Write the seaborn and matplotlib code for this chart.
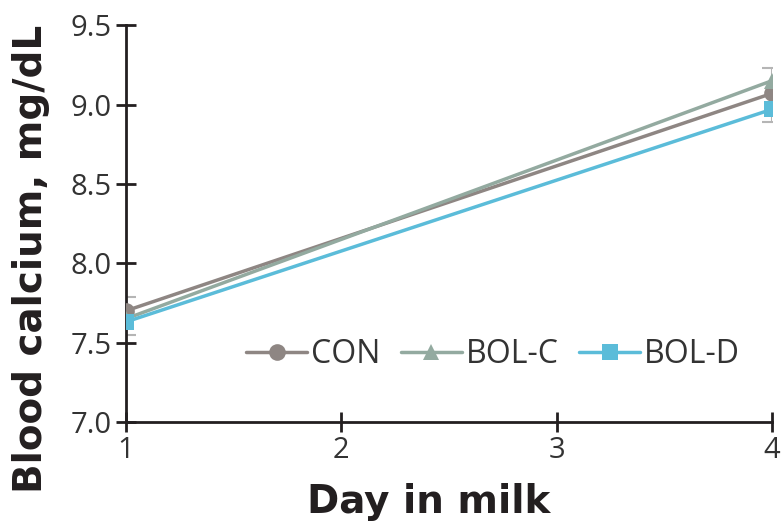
import numpy as np
import pandas as pd
import seaborn as sns
import matplotlib.pyplot as plt

# data
days = [1, 4]
con = [7.70, 9.07]
bol_c = [7.65, 9.15]
bol_d = [7.63, 8.97]
err_mid = [7.67, 9.06]
err_half = [0.12, 0.17]

groups = ['CON', 'BOL-C', 'BOL-D']
colors = {'CON': '#8e8683', 'BOL-C': '#93aaa0', 'BOL-D': '#5bbcd9'}
markers = {'CON': 'o', 'BOL-C': '^', 'BOL-D': 's'}

df = pd.DataFrame({
    'day': days * 3,
    'calcium': con + bol_c + bol_d,
    'group': [g for g in groups for _ in days],
})

sns.set_style('ticks')
plt.rcParams['font.family'] = ['Open Sans', 'DejaVu Sans']

fig = plt.figure(figsize=(7.82, 5.26), dpi=100)
ax = fig.add_axes([0.161, 0.198, 0.826, 0.754])

# pooled SE brackets, clipped at the plot edges
ax.errorbar(days, err_mid, yerr=err_half, fmt='none', ecolor='#b5b5b5',
            elinewidth=1.5, capsize=7, capthick=1.5, zorder=1)

sns.lineplot(data=df, x='day', y='calcium', hue='group', style='group',
             palette=colors, markers=markers, dashes=False, markersize=12,
             linewidth=2.5, markeredgewidth=0, ax=ax, zorder=3)

ax.set_xlim(1, 4)
ax.set_ylim(7.0, 9.5)
ax.set_xticks([1, 2, 3, 4])
ax.set_yticks([7.0, 7.5, 8.0, 8.5, 9.0, 9.5])
ax.set_yticklabels(['7.0', '7.5', '8.0', '8.5', '9.0', '9.5'])
ax.tick_params(direction='inout', length=14, width=2, color='#231f20',
               labelsize=21, labelcolor='#333333')
ax.tick_params(axis='y', pad=3)
sns.despine(ax=ax)
for s in ['left', 'bottom']:
    ax.spines[s].set_linewidth(2)
    ax.spines[s].set_color('#231f20')

ax.set_xlabel('Day in milk', fontsize=28, fontweight='bold', color='#231f20',
              family='DejaVu Sans')
ax.xaxis.set_label_coords(0.469, -0.153)
ax.set_ylabel('Blood calcium, mg/dL', fontsize=28, fontweight='bold', color='#231f20',
              family='DejaVu Sans')
ax.yaxis.set_label_coords(-0.118, 0.41)

leg = ax.legend(loc='lower right', bbox_to_anchor=(0.995, 0.055), ncol=3, frameon=False,
                fontsize=23, handlelength=1.9, columnspacing=0.65, handletextpad=0.12)
for t in leg.get_texts():
    t.set_color('#333333')

fig.savefig('out.png', dpi=100)
